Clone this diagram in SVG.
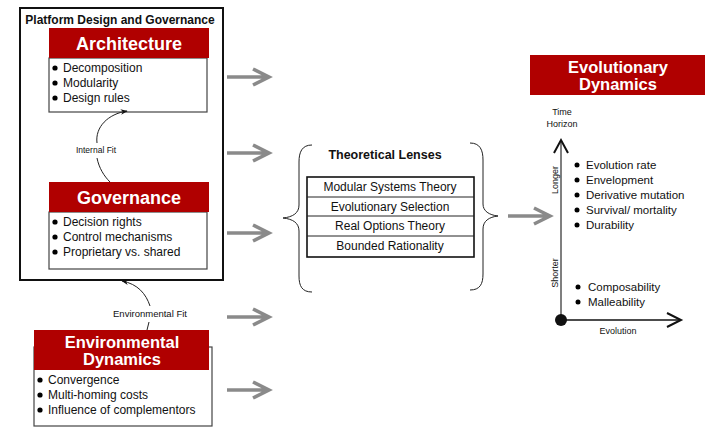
<svg xmlns="http://www.w3.org/2000/svg" width="706" height="431" viewBox="0 0 706 431">
<defs>
<style>
text{font-family:"Liberation Sans",Arial,sans-serif;fill:#111}
.hdr{fill:#b00000}
.hdrt{fill:#fff;font-weight:bold;text-anchor:middle}
.box{fill:#fff;stroke:#444;stroke-width:1.2}
.item{font-size:12px}
.ritem{font-size:11.5px}
.small{font-size:8.5px}
.ga{stroke:#8a8a8a;stroke-width:3.5;fill:none;stroke-linecap:butt}
.thin{stroke:#222;stroke-width:1;fill:none}
.row{font-size:12px;text-anchor:middle}
</style>
<marker id="ah" viewBox="0 0 10 10" refX="9" refY="5" markerWidth="7" markerHeight="7" orient="auto" markerUnits="userSpaceOnUse">
<path d="M0,1 L10,5 L0,9 L3,5 Z" fill="#111"/>
</marker>
</defs>
<rect width="706" height="431" fill="#fff"/>

<g id="platform">
<rect x="20" y="8" width="203" height="272" fill="none" stroke="#111" stroke-width="2"/>
<text x="120" y="24" font-size="12" font-weight="bold" text-anchor="middle">Platform Design and Governance</text>
</g>

<g id="architecture">
<rect class="box" x="49" y="58" width="158" height="54"/>
<rect class="hdr" x="49" y="28" width="160" height="30"/>
<text class="hdrt" x="129" y="50" font-size="18">Architecture</text>
<circle cx="55" cy="68" r="2.6"/><text class="item" x="63" y="72">Decomposition</text>
<circle cx="55" cy="83" r="2.6"/><text class="item" x="63" y="87">Modularity</text>
<circle cx="55" cy="98" r="2.6"/><text class="item" x="63" y="102">Design rules</text>
</g>

<g id="governance">
<rect class="box" x="49" y="212" width="158" height="57"/>
<rect class="hdr" x="49" y="182" width="160" height="30"/>
<text class="hdrt" x="129" y="204" font-size="18">Governance</text>
<circle cx="55" cy="222" r="2.6"/><text class="item" x="63" y="226">Decision rights</text>
<circle cx="55" cy="237" r="2.6"/><text class="item" x="63" y="241">Control mechanisms</text>
<circle cx="55" cy="252" r="2.6"/><text class="item" x="63" y="256">Proprietary vs. shared</text>
</g>

<g id="environmental">
<rect class="box" x="34" y="347" width="178" height="79"/>
<rect class="hdr" x="34" y="330" width="175" height="40"/>
<text class="hdrt" x="122" y="348" font-size="16.5">Environmental</text>
<text class="hdrt" x="122" y="365" font-size="16.5">Dynamics</text>
<circle cx="40" cy="380" r="2.6"/><text class="item" x="48" y="384">Convergence</text>
<circle cx="40" cy="395" r="2.6"/><text class="item" x="48" y="399">Multi-homing costs</text>
<circle cx="40" cy="410" r="2.6"/><text class="item" x="48" y="414">Influence of complementors</text>
</g>

<g id="lenses">
<path class="thin" d="M312,145 C302,145 299,152 299,162 L299,205 C299,213 293,217 283,218 C293,219 299,223 299,231 L299,276 C299,286 302,292 312,292"/>
<path class="thin" d="M470,143 C480,143 483,150 483,160 L483,204 C483,211 489,215 498,216 C489,217 483,221 483,229 L483,274 C483,284 480,290 470,290"/>
<text x="385" y="159" font-size="12.5" font-weight="bold" text-anchor="middle">Theoretical Lenses</text>
<rect x="307" y="177" width="167" height="80" fill="#fff" stroke="#111" stroke-width="1.6"/>
<line class="thin" x1="307" y1="197" x2="474" y2="197"/>
<line class="thin" x1="307" y1="216" x2="474" y2="216"/>
<line class="thin" x1="307" y1="236" x2="474" y2="236"/>
<text class="row" x="390" y="191">Modular Systems Theory</text>
<text class="row" x="390" y="211">Evolutionary Selection</text>
<text class="row" x="390" y="230">Real Options Theory</text>
<text class="row" x="390" y="250">Bounded Rationality</text>
</g>

<g id="evolutionary">
<rect class="hdr" x="530" y="55" width="175" height="40"/>
<text class="hdrt" x="618" y="73" font-size="16.5">Evolutionary</text>
<text class="hdrt" x="618" y="90" font-size="16.5">Dynamics</text>
<text x="562" y="115" font-size="9" text-anchor="middle">Time</text>
<text x="562" y="127" font-size="9" text-anchor="middle">Horizon</text>
<line x1="561" y1="320" x2="561" y2="141" stroke="#555" stroke-width="1.5"/>
<path d="M554,153 L561,140 L568,153" fill="none" stroke="#111" stroke-width="2"/>
<line x1="561" y1="320" x2="681" y2="320" stroke="#111" stroke-width="1.5"/>
<path d="M667,313 L681,320 L667,327" fill="none" stroke="#111" stroke-width="2"/>
<circle cx="561" cy="320" r="6" fill="#111"/>
<text x="618" y="334" font-size="9" text-anchor="middle">Evolution</text>
<text font-size="9" text-anchor="middle" transform="translate(558,180) rotate(-90)">Longer</text>
<text font-size="9" text-anchor="middle" transform="translate(558,273) rotate(-90)">Shorter</text>
<circle cx="577" cy="165" r="2.5"/><text class="ritem" x="586" y="169">Evolution rate</text>
<circle cx="577" cy="180" r="2.5"/><text class="ritem" x="586" y="184">Envelopment</text>
<circle cx="577" cy="195" r="2.5"/><text class="ritem" x="586" y="199">Derivative mutation</text>
<circle cx="577" cy="210" r="2.5"/><text class="ritem" x="586" y="214">Survival/ mortality</text>
<circle cx="577" cy="225" r="2.5"/><text class="ritem" x="586" y="229">Durability</text>
<circle cx="578" cy="287" r="2.5"/><text class="ritem" x="588" y="291">Composability</text>
<circle cx="578" cy="302" r="2.5"/><text class="ritem" x="588" y="306">Malleability</text>
</g>

<g id="connectors">
<path class="thin" d="M97,143 C95,127 108,114 127,111" marker-end="url(#ah)"/>
<text class="small" x="96" y="153" text-anchor="middle">Internal Fit</text>
<path class="thin" d="M97,158 C99,168 104,176 110,182"/>
<path class="thin" d="M150,306 C146,294 138,284 122,281" marker-end="url(#ah)"/>
<text x="150" y="317" font-size="9.5" text-anchor="middle">Environmental Fit</text>
<path class="thin" d="M149,322 L147,330"/>
<g class="ga">
<path d="M227,77 H268 M253,69 L269,77 L253,85"/>
<path d="M227,153 H268 M253,145 L269,153 L253,161"/>
<path d="M227,233 H268 M253,225 L269,233 L253,241"/>
<path d="M227,317 H268 M253,309 L269,317 L253,325"/>
<path d="M227,390 H268 M253,382 L269,390 L253,398"/>
<path d="M508,216 H549 M534,208 L550,216 L534,224"/>
</g>
</g>
</svg>
